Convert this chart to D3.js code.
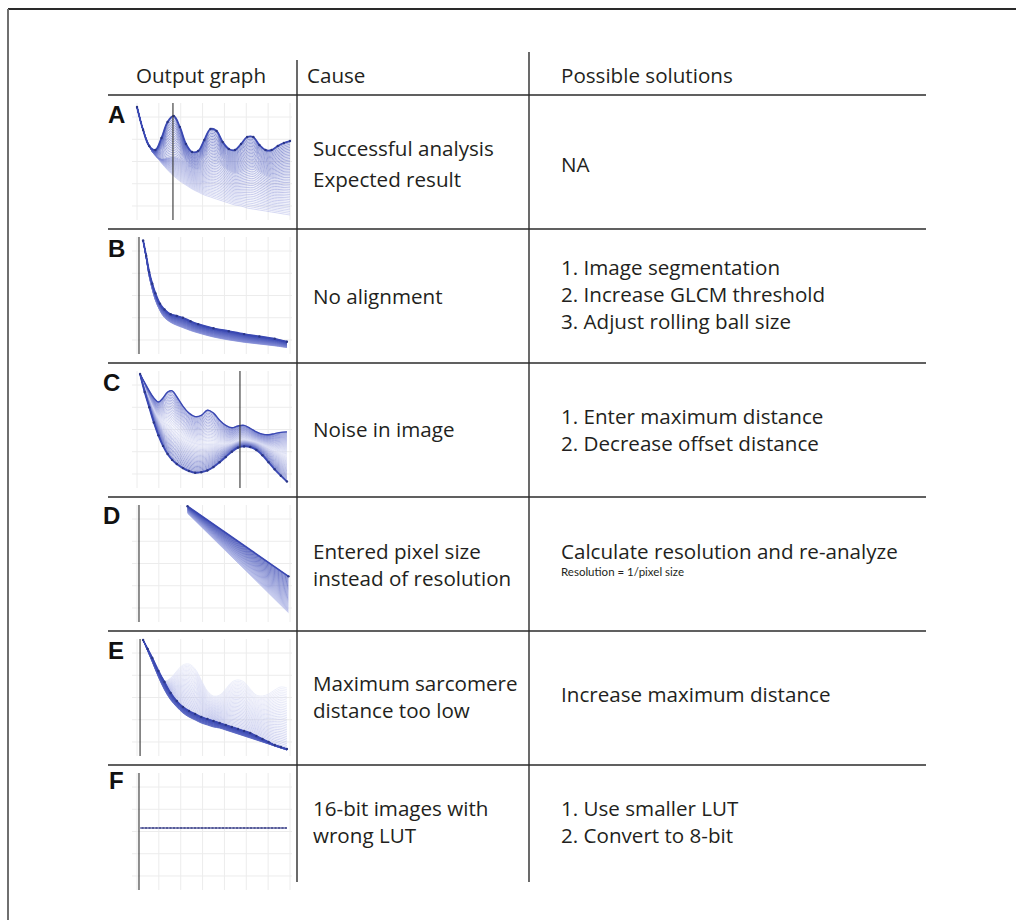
<!DOCTYPE html>
<html>
<head>
<meta charset="utf-8">
<script src="https://cdn.jsdelivr.net/npm/d3@7"></script>
<style>
  body { margin: 0; background: #fff; }
  svg { display: block; }
  .txt { font-family: "Open Sans", Lato, sans-serif; font-size: 20.6px; fill: #231f20; }
  .note { font-family: Lato, sans-serif; font-size: 11.5px; fill: #231f20; }
  .letter { font-family: "Liberation Sans", Arial, sans-serif; font-weight: bold; font-size: 24px; fill: #111; }
</style>
</head>
<body>
<svg id="chart" width="1016" height="920"></svg>
<script>
// TABLE TEXT //
var headers = ["Output graph", "Cause", "Possible solutions"];
var panelLetters = ["A", "B", "C", "D", "E", "F"];
var causes = [
  ["Successful analysis", "Expected result"],
  ["No alignment"],
  ["Noise in image"],
  ["Entered pixel size", "instead of resolution"],
  ["Maximum sarcomere", "distance too low"],
  ["16-bit images with", "wrong LUT"]
];
var solutions = [
  ["NA"],
  ["1. Image segmentation", "2. Increase GLCM threshold", "3. Adjust rolling ball size"],
  ["1. Enter maximum distance", "2. Decrease offset distance"],
  ["Calculate resolution and re-analyze"],
  ["Increase maximum distance"],
  ["1. Use smaller LUT", "2. Convert to 8-bit"]
];
var solutionNote = "Resolution = 1/pixel size"; // goes under row D

// TRACES read off the thumbnails, plot units 0-100 //
// A: successful analysis, oscillating top trace down to smooth decay
var xA = [0, 4, 8, 12, 16, 20, 24, 28, 32, 36, 40, 44, 48, 52, 56, 60, 64, 68, 72, 76, 80, 84, 88, 92, 96, 100];
var topA = [96.6, 76.9, 63.2, 59.8, 70.1, 83.8, 88.9, 79.5, 65, 58.1, 59, 68.4, 77.8, 76.1, 66.7, 60.7, 59.8, 65, 70.9, 70.9, 64.1, 59.8, 59.8, 63.2, 65.8, 67.5];
var midA = [96.6, 76.9, 63, 55, 52, 53, 54, 52, 48, 44, 43, 45, 48, 49, 46, 42, 40, 41, 43, 44, 41, 38, 36, 36, 37, 37];
var botA = [96.6, 76.9, 64.1, 55.6, 48.7, 42.7, 37.6, 33.3, 29.9, 26.5, 23.9, 21.4, 19.7, 17.9, 16.2, 14.5, 12.8, 12, 10.3, 9.4, 8.5, 7.7, 6.8, 6, 5.1, 4.3];

// B: no alignment
var xB = [4, 6, 8, 10, 12, 15, 18, 22, 26, 30, 35, 40, 50, 60, 70, 80, 90, 98];
var topB = [97, 84, 70, 60, 52, 43, 38, 34, 32.5, 31, 28, 25.5, 22, 19.5, 17, 15, 13, 10.5];
var botB = [97, 82, 66, 55, 46, 37, 31, 27, 24.5, 22.5, 20, 18, 14.5, 12, 10, 8.5, 7, 5.5];

// C: noise in image
var xC = [2, 5, 8, 11, 14, 17, 20, 23, 26, 30, 34, 38, 42, 46, 50, 54, 58, 62, 66, 70, 74, 78, 82, 86, 90, 94, 98];
var topC = [97.4, 90, 83, 77, 73.5, 77, 82, 83, 78, 70, 64, 61, 62, 66.5, 64, 58, 53.5, 51.5, 53, 53.5, 51, 48, 46, 45.5, 46.5, 47.5, 48];
var midC = [97.4, 86, 76, 67, 60, 56, 54, 51, 47, 43, 40, 38, 37, 37, 37, 37, 37, 38, 40, 41, 40, 39, 37, 35, 33, 31, 29];
var botC = [97.4, 82, 69, 56, 45, 36, 29, 24, 20.5, 17, 14.5, 13, 13.5, 15, 18, 22, 26.5, 31, 34.5, 35.5, 35, 32.5, 28, 22, 16, 10.5, 5.5];

// D: pixel size instead of resolution
var xD = [33, 99];
var topD = [99, 39];
var botD = [93, 8];

// E: maximum distance too low
var xE = [4, 7, 10, 14, 18, 22, 26, 30, 34, 38, 42, 46, 50, 54, 58, 62, 66, 70, 74, 78, 82, 86, 90, 94, 98];
var lightE = [99.1, 91.5, 83.8, 74.4, 64.1, 66.7, 72.6, 77.8, 78.6, 74.4, 65, 55.6, 51.3, 52.1, 57.3, 63.2, 65, 63.2, 57.3, 52.1, 51.3, 53, 56.4, 59, 58.1];
var bandTopE = [99.1, 91.5, 83.8, 72.6, 63.2, 53.8, 47, 41.9, 38.5, 35.9, 33.3, 31.6, 29.9, 28.2, 26.5, 24.8, 23.1, 21.4, 19.7, 17.1, 14.5, 12, 9.4, 7.7, 6];
var bandBotE = [99.1, 89.7, 80.3, 67.5, 56.4, 47.9, 41.9, 36.8, 33.3, 30.8, 28.2, 26.5, 24.8, 23.9, 22.2, 20.5, 18.8, 17.1, 15.4, 13.7, 12, 10.3, 8.5, 6.8, 5.1];

// F: 16-bit with wrong LUT, flat
var xF = [2, 98];
var flatF = [53, 53];

// x of the vertical marker line in each thumbnail
var markerX = [23.5, 1.3, 67.3, 1.3, 2, 1.3];

// LAYOUT //
var svg = d3.select("#chart");
var rowTop0 = 95, rowH = 134;
var tableLeft = 108, tableRight = 926;
var col1 = 297, col2 = 529;
var darkBlue = "#3a48b2";

// outer frame (top + left edge only visible)
svg.append("line").attr("x1", 8).attr("y1", 9).attr("x2", 1016).attr("y2", 9)
  .style("stroke", "#2a2a2a").style("stroke-width", 2);
svg.append("line").attr("x1", 8).attr("y1", 9).attr("x2", 8).attr("y2", 920)
  .style("stroke", "#6f6f6f").style("stroke-width", 2);

// table rules
panelLetters.forEach(function (l, i) {
  var y = rowTop0 + i * rowH;
  svg.append("line").attr("x1", tableLeft).attr("x2", tableRight)
    .attr("y1", y).attr("y2", y)
    .style("stroke", "#2b2b2b").style("stroke-width", 1.6);
});
svg.append("line").attr("x1", col1).attr("x2", col1).attr("y1", 60).attr("y2", 882)
  .style("stroke", "#2b2b2b").style("stroke-width", 1.4);
svg.append("line").attr("x1", col2).attr("x2", col2).attr("y1", 52).attr("y2", 882)
  .style("stroke", "#2b2b2b").style("stroke-width", 1.4);

// headers
var headerX = [201, 307, 561];
headers.forEach(function (h, i) {
  svg.append("text").attr("class", "txt")
    .attr("x", headerX[i]).attr("y", 83)
    .attr("text-anchor", i == 0 ? "middle" : "start")
    .text(h);
});

// text cells
function textBlock(lines, x, cy, gap) {
  var y0 = cy - (lines.length - 1) * gap / 2 + 7;
  lines.forEach(function (t, j) {
    svg.append("text").attr("class", "txt")
      .attr("x", x).attr("y", y0 + j * gap).text(t);
  });
}
var causeMid = [164, 297, 430, 565, 697, 822];
var solMid = [165, 295, 430, 552, 695, 822];
var causeGap = [31, 27, 27, 27, 27, 27];
causes.forEach(function (c, i) { textBlock(c, 313, causeMid[i], causeGap[i]); });
solutions.forEach(function (s, i) { textBlock(s, 561, solMid[i], 27); });
svg.append("text").attr("class", "note")
  .attr("x", 561).attr("y", 576).text(solutionNote);

// panel letters
var letterX = [108, 108, 103, 103, 108, 109];
var letterDy = [28, 28, 28, 27, 28, 24];
panelLetters.forEach(function (l, i) {
  svg.append("text").attr("class", "letter")
    .attr("x", letterX[i]).attr("y", rowTop0 + i * rowH + letterDy[i]).text(l);
});

// THUMBNAIL GRAPHS //
function blend(keys, t) {
  var n = keys.length - 1;
  var seg = Math.min(n - 1, Math.floor(t * n));
  var u = t * n - seg;
  return keys[seg].map(function (v, k) { return v + (keys[seg + 1][k] - v) * u; });
}

var panels = [
  { xs: xA, fans: [{ keys: [topA, midA, botA], n: 46, c0: "#3b4ab4", c1: "#b9beea", w: 0.7, op: 0.85 }],
    strong: [{ ys: topA, w: 1.8, marks: true }] },
  { xs: xB, fans: [{ keys: [topB, botB], n: 30, c0: "#3544b0", c1: "#8891d8", w: 0.8, op: 0.9 }],
    strong: [{ ys: topB, w: 1.8, marks: true }] },
  { xs: xC, fans: [{ keys: [topC, midC], n: 24, c0: "#5561c2", c1: "#d7daf3", w: 0.7, op: 0.9 },
                   { keys: [midC, botC], n: 24, c0: "#d7daf3", c1: "#3d4bb4", w: 0.7, op: 0.9 }],
    strong: [{ ys: topC, w: 1.4, marks: false }, { ys: botC, w: 1.8, marks: true }] },
  { xs: xD, fans: [{ keys: [topD, botD], n: 34, c0: "#3544b0", c1: "#a9b0e5", w: 0.8, op: 0.9 }],
    strong: [{ ys: topD, w: 1.6, marks: true }] },
  { xs: xE, fans: [{ keys: [lightE, bandTopE], n: 36, c0: "#e3e5f7", c1: "#aeb4e6", w: 0.7, op: 0.9 },
                   { keys: [bandTopE, bandBotE], n: 16, c0: "#3544b0", c1: "#5d6ac4", w: 0.9, op: 0.95 }],
    strong: [{ ys: bandTopE, w: 1.6, marks: true }] },
  { xs: xF, fans: [], strong: [{ ys: flatF, w: 2.2, marks: false, flat: true }] }
];

panels.forEach(function (p, i) {
  var top = rowTop0 + i * rowH;
  var x = d3.scaleLinear().domain([0, 100]).range([137, 290]);
  var y = d3.scaleLinear().domain([0, 100]).range([top + 125, top + 8]);
  var g = svg.append("g");

  // faint grid
  g.selectAll(".gx").data(d3.range(0, 101, 100 / 7)).enter().append("line")
    .attr("x1", d => x(d)).attr("x2", d => x(d))
    .attr("y1", top + 8).attr("y2", top + 125)
    .style("stroke", "#ececec").style("stroke-width", 1);
  g.selectAll(".gy").data(d3.range(12, 100, 19)).enter().append("line")
    .attr("x1", 132).attr("x2", 292)
    .attr("y1", d => y(d)).attr("y2", d => y(d))
    .style("stroke", "#ececec").style("stroke-width", 1);

  var line = d3.line()
    .x(function (d, k) { return x(p.xs[k]); })
    .y(function (d) { return y(d); })
    .curve(p.xs.length > 2 ? d3.curveCatmullRom.alpha(0.5) : d3.curveLinear);

  // fan of traces, lightest first
  p.fans.forEach(function (f) {
    var col = d3.interpolateRgb(f.c0, f.c1);
    var ts = d3.range(f.n).map(function (k) { return k / (f.n - 1); });
    ts.sort(function (a, b) {
      return d3.hsl(col(b)).l - d3.hsl(col(a)).l;
    });
    ts.forEach(function (t) {
      g.append("path").attr("d", line(blend(f.keys, t)))
        .style("fill", "none").style("stroke", col(t))
        .style("stroke-width", f.w).style("stroke-opacity", f.op);
    });
  });

  // emphasised traces
  p.strong.forEach(function (s) {
    if (s.flat) {
      g.append("path").attr("d", line(s.ys))
        .style("fill", "none").style("stroke", "#565b98").style("stroke-width", s.w);
      g.append("path").attr("d", line(s.ys))
        .style("fill", "none").style("stroke", "#c9cbe4").style("stroke-width", 1)
        .style("stroke-dasharray", "1.5,2");
      return;
    }
    g.append("path").attr("d", line(s.ys))
      .style("fill", "none").style("stroke", darkBlue).style("stroke-width", s.w);
    if (s.marks) {
      g.selectAll(null).data(s.ys).enter().append("circle")
        .attr("cx", (d, k) => x(p.xs[k])).attr("cy", d => y(d)).attr("r", 1.2)
        .style("fill", "#2b3786");
    }
  });

  // vertical marker / axis line
  g.append("line").attr("x1", x(markerX[i])).attr("x2", x(markerX[i]))
    .attr("y1", top + 8).attr("y2", top + 125)
    .style("stroke", "#333").style("stroke-width", 1.1);
});
</script>
</body>
</html>
